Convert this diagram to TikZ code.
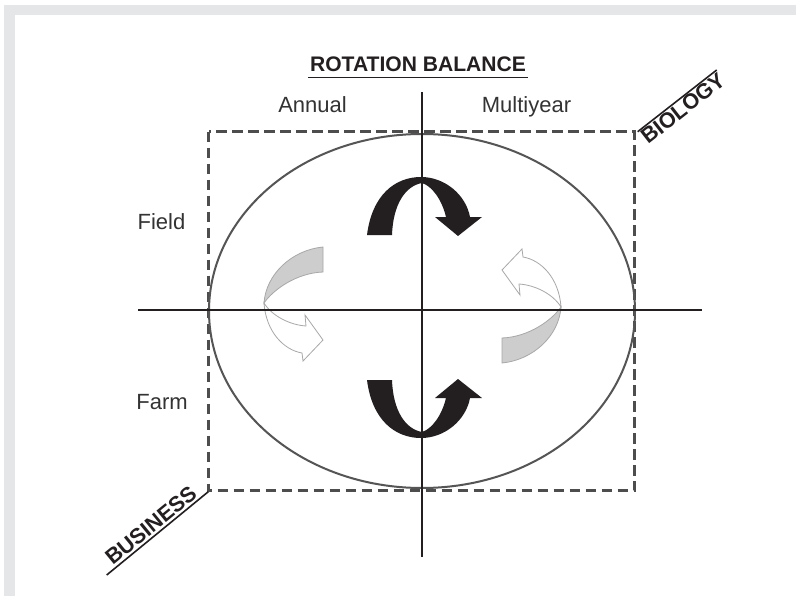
\documentclass[tikz,border=0pt]{standalone}
\usepackage{fontspec}
\setmainfont{Liberation Sans}
\usetikzlibrary{calc}
\definecolor{framegray}{HTML}{E5E6E8}
\definecolor{inkc}{HTML}{231F20}
\definecolor{textc}{HTML}{333333}
\definecolor{rectc}{HTML}{4D4D4D}
\definecolor{ellc}{HTML}{555555}
\definecolor{ribgray}{HTML}{CDCDCD}
\definecolor{ribline}{HTML}{A8A8A8}
\newcommand\topblackpath{(367,235) .. controls (372,195) and (395,177) .. (421,177)
  .. controls (445,177) and (466,195) .. (470,217) -- (482,217) -- (458,236) -- (435,217) -- (446,217)
  .. controls (442,200) and (432,186) .. (422,183) .. controls (405,186) and (393,205) .. (392,235) -- cycle}
\newcommand\ribbonback{(323,247) .. controls (292,250) and (266,274) .. (264,303)
  .. controls (273,290) and (296,273) .. (323,272) -- cycle}
\newcommand\ribbonfront{(264,303) .. controls (266,332) and (284,350) .. (302,353) -- (303,361) -- (323,340)
  -- (305,315) -- (306,326) .. controls (290,325) and (272,316) .. (264,303) -- cycle}
\begin{document}
\begin{tikzpicture}[x=0.75pt,y=-0.75pt,
  axis/.style={line width=1.5pt, draw=inkc},
  lbl/.style={font=\fontsize{16.5}{18}\selectfont, text=textc, inner sep=0pt},
  diaglbl/.style={font=\bfseries\fontsize{16.2}{18}\selectfont, text=inkc, inner sep=1pt},
  diagline/.style={line width=1.2pt, draw=inkc},
  blk/.style={fill=inkc, draw=none},
  ribback/.style={fill=ribgray, draw=ribline, line width=0.6pt},
  ribfront/.style={fill=white, draw=ribline, line width=0.6pt},
  dashbox/.style={draw=rectc, line width=2.4pt, dash pattern=on 8pt off 4pt},
  ring/.style={draw=ellc, line width=1.5pt}]
\useasboundingbox (0,0) rectangle (796,596);
\fill[white] (0,0) rectangle (796,596);
% frame bands
\fill[framegray] (4,5) rectangle (796,15);
\fill[framegray] (4,5) rectangle (15,596);
% dashed square and ellipse
\draw[dashbox] (208.5,131.5) rectangle (634.5,490.5);
\draw[ring] (422,311) ellipse [x radius=213, y radius=177];
% black arrows
\fill[blk] \topblackpath;
\begin{scope}[shift={(0,615)}, yscale=-1]
  \fill[blk] \topblackpath;
\end{scope}
% ribbon arrows
\filldraw[ribback] \ribbonback;
\filldraw[ribfront] \ribbonfront;
\begin{scope}[rotate around={180:(412.5,305)}]
  \filldraw[ribback] \ribbonback;
  \filldraw[ribfront] \ribbonfront;
\end{scope}
% axes
\coordinate (vtop) at (422,92);
\coordinate (vbot) at (422,557);
\coordinate (hleft) at (138,310);
\coordinate (hright) at (702,310);
\draw[axis] (vtop) -- (vbot);
\draw[axis] (hleft) -- (hright);
% title
\node[font=\bfseries\fontsize{15.8}{18}\selectfont, text=inkc, inner sep=0pt, anchor=base] (title) at (418,71) {ROTATION BALANCE};
\coordinate (ulA) at (308,77.5);
\coordinate (ulB) at (528,77.5);
\draw[line width=1.2pt, draw=inkc] (ulA) -- (ulB);
% labels
\node[lbl, anchor=base] (annual) at (312.5,112) {Annual};
\node[lbl, anchor=base] (multi) at (526.5,112) {Multiyear};
\node[lbl, anchor=base] (field) at (161.5,229) {Field};
\node[lbl, anchor=base] (farm) at (162,409) {Farm};
% diagonal labels
\coordinate (bioA) at (637.7,131.7);
\coordinate (bioB) at (716.7,70);
\draw[diagline] (bioA) -- (bioB);
\node[diaglbl, rotate=38, anchor=north] (bio) at ($(bioA)!0.5!(bioB)$) {BIOLOGY};
\coordinate (busA) at (106.7,575);
\coordinate (busB) at (208.3,491.7);
\draw[diagline] (busA) -- (busB);
\node[diaglbl, rotate=39.4, anchor=south, inner sep=2pt] (bus) at ($(busA)!0.5!(busB)$) {BUSINESS};
\end{tikzpicture}
\end{document}
